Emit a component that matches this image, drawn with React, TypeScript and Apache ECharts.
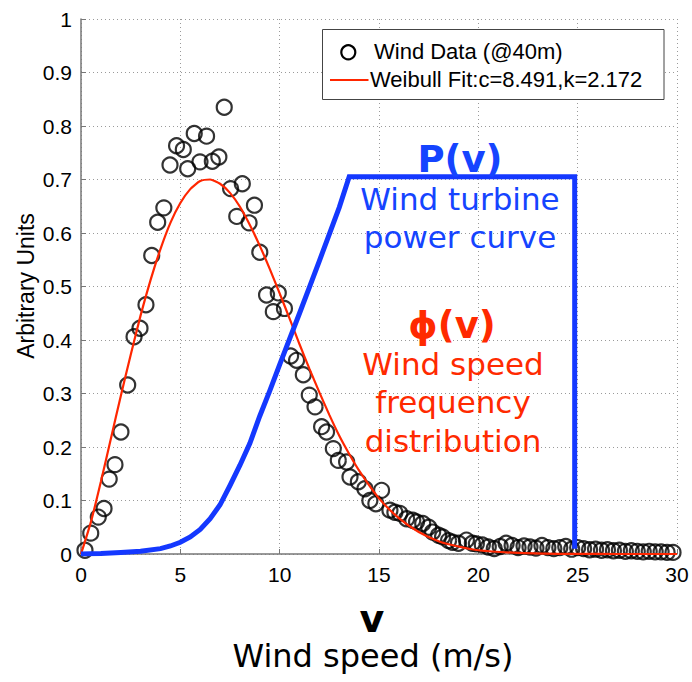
import React, { useEffect, useRef } from "react";
import * as echarts from "echarts";

// ---- data ----
const xTicks = [0, 5, 10, 15, 20, 25, 30];
const xTickLabels = ["0", "5", "10", "15", "20", "25", "30"];
const yTickLabels = ["0", "0.1", "0.2", "0.3", "0.4", "0.5", "0.6", "0.7", "0.8", "0.9", "1"];

// Wind data (@40m) scatter: speed (m/s) and value
const windX = [
  0.2, 0.49, 0.87, 1.16, 1.42, 1.71, 2.01, 2.35, 2.67, 2.97, 3.27, 3.56, 3.86, 4.17, 4.48, 4.81,
  5.15, 5.37, 5.7, 5.99, 6.32, 6.61, 6.94, 7.21, 7.53, 7.84, 8.12, 8.46, 8.73, 9.0, 9.34, 9.68,
  9.93, 10.24, 10.55, 10.85, 11.19, 11.49, 11.78, 12.11, 12.36, 12.7, 12.95, 13.37, 13.54, 13.96,
  14.29, 14.54, 14.84, 15.13, 15.55, 15.8, 16.05, 16.39, 16.7, 16.89, 17.2, 17.5, 17.7, 18.0, 18.2,
  18.5, 18.7, 19.0, 19.4, 19.7, 19.9, 20.2, 20.5, 20.8, 21.1, 21.4, 21.7, 22.0, 22.3, 22.6, 22.9,
  23.2, 23.5, 23.8, 24.1, 24.4, 24.7, 25.0, 25.3, 25.6, 25.9, 26.2, 26.5, 26.8, 27.1, 27.4, 27.7,
  28.0, 28.3, 28.6, 28.9, 29.2, 29.5, 29.8,
];
const windY = [
  0.007, 0.039, 0.069, 0.085, 0.14, 0.167, 0.228, 0.316, 0.406, 0.422, 0.466, 0.558, 0.62, 0.647,
  0.727, 0.763, 0.756, 0.72, 0.786, 0.733, 0.781, 0.734, 0.742, 0.835, 0.683, 0.631, 0.692, 0.619,
  0.652, 0.564, 0.484, 0.453, 0.488, 0.459, 0.37, 0.362, 0.335, 0.297, 0.275, 0.238, 0.228, 0.197,
  0.175, 0.172, 0.144, 0.135, 0.122, 0.1, 0.094, 0.119, 0.082, 0.078, 0.076, 0.066, 0.063, 0.06,
  0.057, 0.05, 0.041, 0.035, 0.032, 0.025, 0.022, 0.02, 0.026, 0.02, 0.019, 0.017, 0.013, 0.01,
  0.014, 0.02, 0.016, 0.012, 0.015, 0.013, 0.011, 0.016, 0.012, 0.01, 0.012, 0.014, 0.009, 0.012,
  0.01, 0.008, 0.009, 0.007, 0.008, 0.006, 0.007, 0.005, 0.006, 0.005, 0.004, 0.005, 0.004, 0.004,
  0.003, 0.003,
];

// Weibull fit curve (c=8.491, k=2.172)
const fitX = [
  0, 0.5, 1, 1.5, 2, 2.5, 3, 3.5, 4, 4.5, 5, 5.5, 6, 6.5, 7, 7.5, 8, 8.5, 9, 9.5, 10, 10.5, 11,
  11.5, 12, 12.5, 13, 13.5, 14, 15, 16, 17, 18, 19, 20, 22, 24, 26, 28, 30,
];
const fitY = [
  0, 0.06, 0.135, 0.215, 0.295, 0.372, 0.446, 0.512, 0.57, 0.619, 0.656, 0.682, 0.697, 0.7, 0.692,
  0.675, 0.649, 0.615, 0.576, 0.533, 0.487, 0.44, 0.392, 0.346, 0.302, 0.26, 0.221, 0.187, 0.156,
  0.104, 0.067, 0.041, 0.024, 0.014, 0.007, 0.002, 0.0004, 0.0001, 0, 0,
];

// Wind turbine power curve P(v)
const powerX = [0, 1, 2, 3, 4, 4.5, 5, 5.5, 6, 6.5, 7, 7.5, 8, 8.5, 9, 9.5, 10, 10.5, 11, 11.5, 12, 12.5, 13, 13.5, 24.85, 24.85];
const powerY = [0, 0.001, 0.003, 0.005, 0.01, 0.015, 0.022, 0.032, 0.046, 0.066, 0.092, 0.128, 0.166, 0.207, 0.258, 0.305, 0.354, 0.402, 0.45, 0.499, 0.548, 0.598, 0.648, 0.705, 0.705, 0.01];

const legendLabels = ["Wind Data (@40m)", "Weibull Fit:c=8.491,k=2.172"];

const BLUE = "#1438ff";
const BLUE_TEXT = "#1544ff";
const RED = "#ff2600";
const RED_TEXT = "#ff2a00";

export default function App() {
  const ref = useRef<HTMLDivElement>(null);
  useEffect(() => {
    document.body.style.margin = "0";
    if (!ref.current) return;
    const chart = echarts.init(ref.current, undefined, { renderer: "svg" });
    const tickFont = "Liberation Sans";
    const dv = "DejaVu Sans";
    const option: any = {
      animation: false,
      backgroundColor: "#fff",
      grid: { left: 81, right: 15, top: 19, bottom: 128, containLabel: false },
      xAxis: {
        type: "value",
        min: 0,
        max: 30,
        interval: 5,
        axisLine: { show: true, lineStyle: { color: "#777", width: 1.5 } },
        axisTick: { show: true, inside: true, length: 5, lineStyle: { color: "#777" } },
        axisLabel: {
          margin: 10,
          color: "#000",
          fontFamily: tickFont,
          fontSize: 21,
          formatter: (v: number) => xTickLabels[xTicks.indexOf(Math.round(v))] ?? "",
        },
        splitLine: { show: true, lineStyle: { color: "#9a9a9a", width: 1, type: [1, 3] } },
      },
      yAxis: {
        type: "value",
        min: 0,
        max: 1,
        interval: 0.1,
        axisLine: { show: true, lineStyle: { color: "#777", width: 1.5 } },
        axisTick: { show: true, inside: true, length: 5, lineStyle: { color: "#777" } },
        axisLabel: {
          margin: 9,
          color: "#000",
          fontFamily: tickFont,
          fontSize: 21,
          formatter: (v: number) => yTickLabels[Math.round(v * 10)] ?? "",
        },
        splitLine: { show: true, lineStyle: { color: "#9a9a9a", width: 1, type: [1, 3] } },
      },
      series: [
        {
          name: legendLabels[0],
          type: "scatter",
          symbol: "circle",
          symbolSize: 15,
          itemStyle: { color: "rgba(0,0,0,0)", borderColor: "#000", borderWidth: 2.2 },
          data: windX.map((x, i) => [x, windY[i]]),
          z: 2,
        },
        {
          name: legendLabels[1],
          type: "line",
          symbol: "none",
          lineStyle: { color: RED, width: 2.2 },
          data: fitX.map((x, i) => [x, fitY[i]]),
          smooth: 0.2,
          z: 3,
        },
        {
          name: "P(v)",
          type: "line",
          symbol: "none",
          lineStyle: { color: BLUE, width: 5, join: "miter" },
          data: powerX.map((x, i) => [x, powerY[i]]),
          z: 4,
        },
      ],
      graphic: [
        {
          type: "rect",
          z: 100,
          shape: { x: 322.5, y: 29.5, width: 341.5, height: 70 },
          style: { fill: "#fff", stroke: "#444", lineWidth: 1 },
        },
        {
          type: "circle",
          z: 101,
          shape: { cx: 348.3, cy: 52.3, r: 7 },
          style: { fill: "none", stroke: "#000", lineWidth: 2.2 },
        },
        {
          type: "text",
          z: 101,
          x: 374,
          y: 51,
          style: { text: legendLabels[0], font: `22px "${tickFont}"`, fill: "#000", textAlign: "left", textVerticalAlign: "middle" },
        },
        {
          type: "line",
          z: 101,
          shape: { x1: 330, y1: 80, x2: 368.5, y2: 80 },
          style: { stroke: RED, lineWidth: 2 },
        },
        {
          type: "text",
          z: 101,
          x: 370,
          y: 79,
          style: { text: legendLabels[1], font: `22px "${tickFont}"`, fill: "#000", textAlign: "left", textVerticalAlign: "middle" },
        },
        // y axis title
        {
          type: "text",
          z: 101,
          x: 26,
          y: 286,
          rotation: Math.PI / 2,
          style: { text: "Arbitrary Units", font: `23px "${tickFont}"`, fill: "#000", textAlign: "center", textVerticalAlign: "middle" },
        },
        // P(v) annotation
        {
          type: "text",
          z: 101,
          x: 460,
          y: 159,
          style: { text: "P(v)", font: `bold 37px "${dv}"`, fill: BLUE_TEXT, textAlign: "center", textVerticalAlign: "middle" },
        },
        {
          type: "text",
          z: 101,
          x: 460,
          y: 199,
          style: { text: "Wind turbine", font: `31px "${dv}"`, fill: BLUE_TEXT, textAlign: "center", textVerticalAlign: "middle" },
        },
        {
          type: "text",
          z: 101,
          x: 460,
          y: 237,
          style: { text: "power curve", font: `31px "${dv}"`, fill: BLUE_TEXT, textAlign: "center", textVerticalAlign: "middle" },
        },
        // phi(v) annotation
        {
          type: "text",
          z: 101,
          x: 452,
          y: 325,
          style: { text: "ϕ(v)", font: `bold 37px "${dv}"`, fill: RED_TEXT, textAlign: "center", textVerticalAlign: "middle" },
        },
        {
          type: "text",
          z: 101,
          x: 453,
          y: 364,
          style: { text: "Wind speed", font: `31px "${dv}"`, fill: RED_TEXT, textAlign: "center", textVerticalAlign: "middle" },
        },
        {
          type: "text",
          z: 101,
          x: 453,
          y: 402,
          style: { text: "frequency", font: `31px "${dv}"`, fill: RED_TEXT, textAlign: "center", textVerticalAlign: "middle" },
        },
        {
          type: "text",
          z: 101,
          x: 453,
          y: 441,
          style: { text: "distribution", font: `31px "${dv}"`, fill: RED_TEXT, textAlign: "center", textVerticalAlign: "middle" },
        },
        // x axis title
        {
          type: "text",
          z: 101,
          x: 372,
          y: 619,
          style: { text: "v", font: `bold 38px "${dv}"`, fill: "#000", textAlign: "center", textVerticalAlign: "middle" },
        },
        {
          type: "text",
          z: 101,
          x: 373,
          y: 656,
          style: { text: "Wind speed (m/s)", font: `32px "${dv}"`, fill: "#000", textAlign: "center", textVerticalAlign: "middle" },
        },
      ],
    };
    chart.setOption(option);
    return () => chart.dispose();
  }, []);
  return <div ref={ref} style={{ width: 692, height: 682 }} />;
}
